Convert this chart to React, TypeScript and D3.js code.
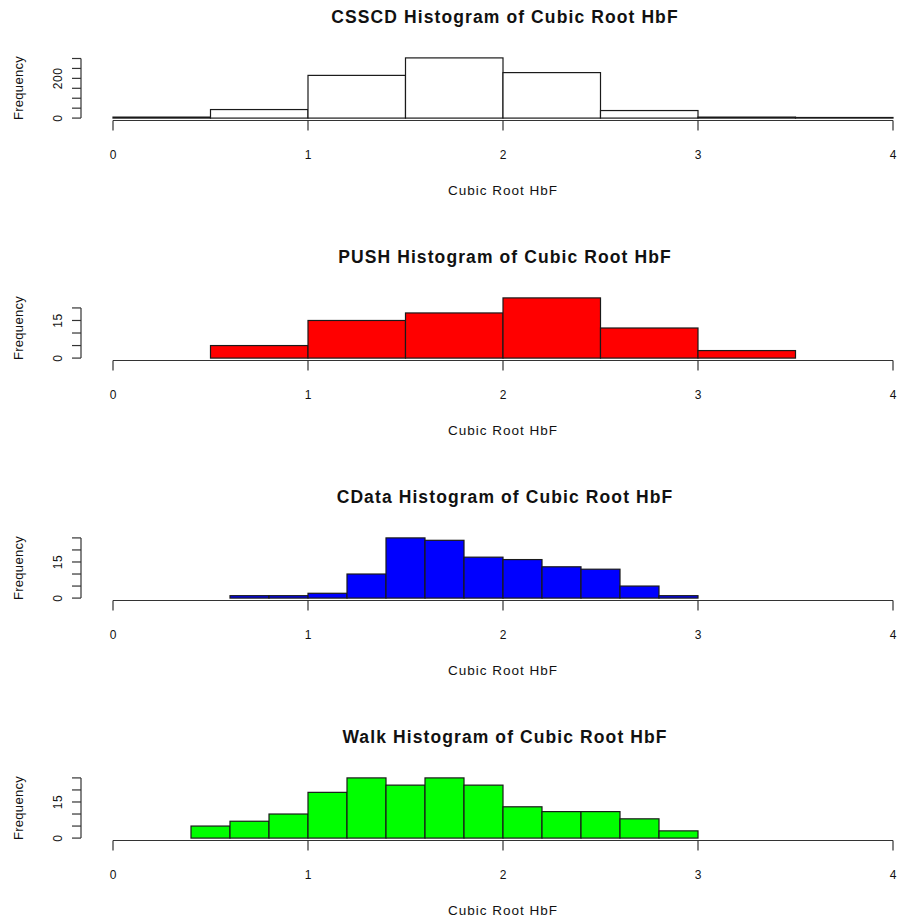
import React from "react";
import * as d3 from "d3";

const panelNames = ["CSSCD", "PUSH", "CData", "Walk"];
const panelColors = ["#ffffff", "#ff0000", "#0000ff", "#00ff00"];

const csscdBreaks = [0, 0.5, 1, 1.5, 2, 2.5, 3, 3.5, 4];
const csscdCounts = [5, 43, 215, 303, 229, 38, 5, 3];
const pushBreaks = [0.5, 1, 1.5, 2, 2.5, 3, 3.5];
const pushCounts = [5, 15, 18, 24, 12, 3];
const cdataBreaks = [0.6, 0.8, 1.0, 1.2, 1.4, 1.6, 1.8, 2.0, 2.2, 2.4, 2.6, 2.8, 3.0];
const cdataCounts = [1, 1, 2, 10, 25, 24, 17, 16, 13, 12, 5, 1];
const walkBreaks = [0.4, 0.6, 0.8, 1.0, 1.2, 1.4, 1.6, 1.8, 2.0, 2.2, 2.4, 2.6, 2.8, 3.0];
const walkCounts = [5, 7, 10, 19, 25, 22, 25, 22, 13, 11, 11, 8, 3];

const xTicks = [0, 1, 2, 3, 4];
const csscdYTicks = [0, 50, 100, 150, 200, 250, 300];
const csscdYLabels = [0, 200];
const pushYTicks = [0, 5, 10, 15, 20];
const pushYLabels = [0, 15];
const cdataYTicks = [0, 5, 10, 15, 20, 25];
const cdataYLabels = [0, 15];
const walkYTicks = [0, 5, 10, 15, 20, 25];
const walkYLabels = [0, 15];

const titleSuffix = " Histogram of Cubic Root HbF";
const xLabel = "Cubic Root HbF";
const yLabel = "Frequency";

const breaksList = [csscdBreaks, pushBreaks, cdataBreaks, walkBreaks];
const countsList = [csscdCounts, pushCounts, cdataCounts, walkCounts];
const yTicksList = [csscdYTicks, pushYTicks, cdataYTicks, walkYTicks];
const yLabelsList = [csscdYLabels, pushYLabels, cdataYLabels, walkYLabels];

const W = 900;
const H = 923;
const FONT = "'Liberation Sans', Arial, Helvetica, sans-serif";

function Panel({ i }: { i: number }) {
  const bottom = 120.5 + 240 * i;
  const top = bottom - 65;
  const breaks = breaksList[i];
  const counts = countsList[i];
  const max = d3.max(counts) as number;
  const x = d3.scaleLinear().domain([0, 4]).range([113, 893]);
  const y = d3.scaleLinear().domain([-0.04 * max, 1.04 * max]).range([bottom, top]);
  const yTicks = yTicksList[i];
  const yLabels = yLabelsList[i];
  const axisX = 81;
  const stroke = "#1a1a1a";
  return (
    <g>
      {counts.map((c, k) => (
        <rect
          key={k}
          x={x(breaks[k])}
          y={y(c)}
          width={x(breaks[k + 1]) - x(breaks[k])}
          height={y(0) - y(c)}
          fill={panelColors[i]}
          stroke={stroke}
          strokeWidth={1.2}
        />
      ))}
      <line x1={x(0)} x2={x(4)} y1={bottom} y2={bottom} stroke="#333" strokeWidth={1.2} />
      {xTicks.map((t) => (
        <g key={t}>
          <line x1={x(t)} x2={x(t)} y1={bottom} y2={bottom + 10} stroke="#333" strokeWidth={1.2} />
          <text
            x={x(t)}
            y={bottom + 34}
            textAnchor="middle"
            dominantBaseline="central"
            fontSize={12}
            fontFamily={FONT}
            fill="#111"
          >
            {t}
          </text>
        </g>
      ))}
      <text
        x={503}
        y={bottom + 69.5}
        textAnchor="middle"
        dominantBaseline="central"
        fontSize={13.5}
        letterSpacing={1}
        fontFamily={FONT}
        fill="#111"
      >
        {xLabel}
      </text>
      <line x1={axisX} x2={axisX} y1={y(yTicks[0])} y2={y(yTicks[yTicks.length - 1])} stroke="#333" strokeWidth={1.2} />
      {yTicks.map((t) => (
        <line key={t} x1={axisX - 9} x2={axisX} y1={y(t)} y2={y(t)} stroke="#333" strokeWidth={1.2} />
      ))}
      {yLabels.map((t) => (
        <text
          key={t}
          transform={`translate(57.5,${y(t)}) rotate(-90)`}
          textAnchor="middle"
          dominantBaseline="central"
          fontSize={12}
          letterSpacing={0.5}
          fontFamily={FONT}
          fill="#111"
        >
          {t}
        </text>
      ))}
      <text
        transform={`translate(18,${(top + bottom) / 2}) rotate(-90)`}
        textAnchor="middle"
        dominantBaseline="central"
        fontSize={13}
        letterSpacing={0.3}
        fontFamily={FONT}
        fill="#111"
      >
        {yLabel}
      </text>
      <text
        x={505}
        y={bottom - 103.5}
        textAnchor="middle"
        dominantBaseline="central"
        fontSize={17.5}
        letterSpacing={1.1}
        fontWeight="bold"
        fontFamily={FONT}
        fill="#111"
      >
        {panelNames[i] + titleSuffix}
      </text>
    </g>
  );
}

export default function App() {
  return (
    <svg
      width={W}
      height={H}
      viewBox={`0 0 ${W} ${H}`}
      style={{ position: "absolute", left: 0, top: 0, background: "#fff" }}
    >
      <rect x={0} y={0} width={W} height={H} fill="#fff" />
      {panelNames.map((_, i) => (
        <Panel key={i} i={i} />
      ))}
    </svg>
  );
}
